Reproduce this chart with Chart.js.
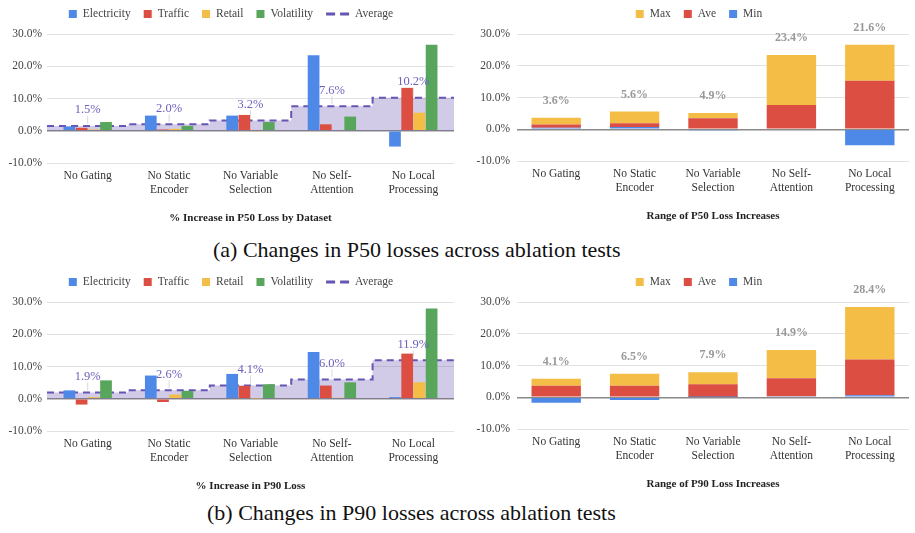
<!DOCTYPE html>
<html lang="en">
<head>
<meta charset="utf-8">
<title>Ablation tests</title>
<script src="https://cdn.jsdelivr.net/npm/chart.js@4.4.0/dist/chart.umd.min.js"></script>
<style>
  body { margin: 0; background: #fff; }
  #page { position: relative; width: 915px; height: 533px; overflow: hidden; }
  canvas { position: absolute; }
  .caption { position: absolute; font-family: "Liberation Serif", serif; font-size: 22px; color: #111; white-space: nowrap; }
</style>
</head>
<body>
<div id="page">
  <canvas id="p50Data" width="458" height="230" style="left:0;top:0"></canvas>
  <canvas id="p50Range" width="457" height="230" style="left:458px;top:0"></canvas>
  <div class="caption" style="left:213px;top:237px">(a) Changes in P50 losses across ablation tests</div>
  <canvas id="p90Data" width="458" height="230" style="left:0;top:268px"></canvas>
  <canvas id="p90Range" width="457" height="230" style="left:458px;top:268px"></canvas>
  <div class="caption" style="left:207px;top:500px">(b) Changes in P90 losses across ablation tests</div>
</div>
<script>
    // ablation tests (x axis)
    const ablations = ['No Gating', ['No Static', 'Encoder'], ['No Variable', 'Selection'], ['No Self-', 'Attention'], ['No Local', 'Processing']];

    // % increase in P50 loss by dataset
    const p50Electricity = [1.3, 4.7, 4.7, 23.4, -4.9];
    const p50Traffic = [0.9, 0.4, 4.9, 2.0, 13.3];
    const p50Retail = [0.4, 0.6, -0.3, 0.0, 5.6];
    const p50Volatility = [2.7, 1.5, 2.7, 4.4, 26.7];
    const p50Average = [1.5, 2.0, 3.2, 7.6, 10.2];

    // % increase in P90 loss by dataset
    const p90Electricity = [2.6, 7.2, 7.7, 14.5, 0.5];
    const p90Traffic = [-1.8, -1.0, 4.0, 4.1, 14.0];
    const p90Retail = [0.5, 1.3, 0.1, 0.3, 5.1];
    const p90Volatility = [5.7, 2.4, 4.5, 5.1, 28.0];
    const p90Average = [1.9, 2.6, 4.1, 6.0, 11.9];

    // range charts: stacked segments and the total shown above each stack
    const p50RangeMin = [0.5, 0.7, -0.3, 0.0, -5.0];
    const p50RangeAve = [1.0, 1.2, 3.5, 7.6, 15.3];
    const p50RangeMax = [2.1, 3.7, 1.6, 15.8, 11.3];
    const p50RangeTotal = [3.6, 5.6, 4.9, 23.4, 21.6];

    const p90RangeMin = [-1.7, -0.9, 0.1, 0.3, 0.6];
    const p90RangeAve = [3.6, 3.6, 4.0, 5.7, 11.3];
    const p90RangeMax = [2.2, 3.8, 3.8, 8.9, 16.5];
    const p90RangeTotal = [4.1, 6.5, 7.9, 14.9, 28.4];

    const yTicks = [-10, 0, 10, 20, 30];

    const blue = '#4e89e8', red = '#dc4e41', yellow = '#f3bd46', green = '#58a65c';
    const avgLine = '#6556b3', avgFill = 'rgba(104, 84, 175, 0.3)';
    const fontFamily = '"Liberation Serif", "Times New Roman", serif';

    Chart.defaults.font.family = fontFamily;
    Chart.defaults.font.size = 11;
    Chart.defaults.color = '#444';
    Chart.defaults.animation = false;

    // legend like the google sheets one (square boxes + dashed line item)
    const sheetLegend = {
        id: 'sheetLegend',
        afterDraw(chart, args, opts) {
            const ctx = chart.ctx;
            ctx.save();
            ctx.font = '11.5px ' + fontFamily;
            ctx.textBaseline = 'middle';
            let items = chart.data.datasets.map(d => ({
                text: d.label,
                color: d.type === 'line' ? d.borderColor : d.backgroundColor,
                dash: d.type === 'line'
            }));
            if (opts.reverse) items = items.reverse();
            const box = 8, gap = 6, spacing = 13, dashW = 23;
            const widths = items.map(it => (it.dash ? dashW : box) + gap + ctx.measureText(it.text).width);
            const total = widths.reduce((a, b) => a + b, 0) + spacing * (items.length - 1);
            let x = opts.x - total / 2;
            const y = opts.y;
            items.forEach((it, i) => {
                if (it.dash) {
                    ctx.strokeStyle = it.color;
                    ctx.lineWidth = 3;
                    ctx.setLineDash([9, 5]);
                    ctx.beginPath();
                    ctx.moveTo(x, y);
                    ctx.lineTo(x + dashW, y);
                    ctx.stroke();
                    ctx.setLineDash([]);
                } else {
                    ctx.fillStyle = it.color;
                    ctx.fillRect(x, y - box / 2, box, box);
                }
                ctx.fillStyle = '#444';
                ctx.fillText(it.text, x + (it.dash ? dashW : box) + gap, y);
                x += widths[i] + spacing;
            });
            ctx.restore();
        }
    };

    // purple average labels with a thin leader line (x is a linear 0..5 scale here)
    const averageLabels = {
        id: 'averageLabels',
        afterDatasetsDraw(chart, args, opts) {
            const ctx = chart.ctx, xs = chart.scales.x, ys = chart.scales.y;
            ctx.save();
            opts.values.forEach((v, i) => {
                const px = xs.getPixelForValue(i + 0.5);
                const py = ys.getPixelForValue(v);
                ctx.strokeStyle = '#d9d9d9';
                ctx.lineWidth = 1;
                ctx.beginPath();
                ctx.moveTo(px, py - 2);
                ctx.lineTo(px, py - 10);
                ctx.stroke();
                ctx.fillStyle = '#6d62bb';
                ctx.font = '12.5px ' + fontFamily;
                ctx.textAlign = 'center';
                ctx.textBaseline = 'middle';
                ctx.fillText(v.toFixed(1) + '%', px, py - 16);
            });
            ctx.restore();
        }
    };

    // grey totals above the stacked bars
    const stackTotals = {
        id: 'stackTotals',
        afterDatasetsDraw(chart, args, opts) {
            const ctx = chart.ctx, xs = chart.scales.x, ys = chart.scales.y;
            ctx.save();
            ctx.fillStyle = '#999';
            ctx.font = 'bold 12px ' + fontFamily;
            ctx.textAlign = 'center';
            ctx.textBaseline = 'middle';
            opts.values.forEach((v, i) => {
                const top = chart.data.datasets.reduce((s, d) => s + Math.max(d.data[i], 0), 0);
                ctx.fillText(v.toFixed(1) + '%', xs.getPixelForValue(i), ys.getPixelForValue(top) - 17);
            });
            ctx.restore();
        }
    };

    const yScale = (width, padding) => ({
        min: -10,
        max: 30,
        afterBuildTicks: s => { s.ticks = yTicks.map(v => ({ value: v })); },
        afterFit: s => { s.width = width; },
        border: { display: false },
        grid: {
            drawTicks: false,
            color: c => c.tick.value === 0 ? '#8a8a8a' : '#e2e2e2',
            lineWidth: c => c.tick.value === 0 ? 1.5 : 1
        },
        ticks: { padding: padding, color: '#444', font: { size: 11.5 }, callback: v => v.toFixed(1) + '%' }
    });

    const xScale = (title, height, titleBottom) => ({
        afterFit: s => { s.height = height; },
        border: { display: false },
        grid: { display: false, drawTicks: false },
        ticks: { padding: 6, color: '#333', font: { size: 11.5 }, maxRotation: 0, autoSkip: false },
        title: {
            display: true,
            text: title,
            color: '#222',
            font: { weight: 'bold', size: 11 },
            padding: { top: 0, bottom: titleBottom }
        }
    });

    // bars sit in the middle of each unit slot, the step line on the slot edges
    const barPoints = values => values.map((v, i) => ({ x: i + 0.5, y: v }));
    const stepPoints = values => {
        const pts = values.map((v, i) => ({ x: i, y: v }));
        pts.push({ x: values.length, y: values[values.length - 1] });
        return pts;
    };

    const datasetChart = (id, title, series, average) => {
        const barDefaults = { type: 'bar', categoryPercentage: 0.6, barPercentage: 0.96, order: 0 };
        const x = xScale(title, 67, 5);
        return new Chart(document.getElementById(id), {
            type: 'bar',
            data: {
                datasets: [
                    { ...barDefaults, label: 'Electricity', data: barPoints(series[0]), backgroundColor: blue },
                    { ...barDefaults, label: 'Traffic', data: barPoints(series[1]), backgroundColor: red },
                    { ...barDefaults, label: 'Retail', data: barPoints(series[2]), backgroundColor: yellow },
                    { ...barDefaults, label: 'Volatility', data: barPoints(series[3]), backgroundColor: green },
                    {
                        type: 'line', label: 'Average', order: 1,
                        data: stepPoints(average),
                        stepped: 'before', fill: 'origin',
                        borderColor: avgLine, borderWidth: 2, borderDash: [7, 5],
                        backgroundColor: avgFill, pointRadius: 0
                    }
                ]
            },
            options: {
                responsive: false,
                events: [],
                layout: { padding: { top: 34, right: 4, left: 0, bottom: 0 } },
                scales: {
                    x: {
                        ...x,
                        type: 'linear',
                        min: 0,
                        max: ablations.length,
                        offset: false,
                        afterBuildTicks: s => { s.ticks = ablations.map((a, i) => ({ value: i + 0.5 })); },
                        ticks: { ...x.ticks, callback: v => ablations[Math.floor(v)] }
                    },
                    y: yScale(47, 5)
                },
                plugins: {
                    legend: { display: false },
                    tooltip: { enabled: false },
                    sheetLegend: { x: 231, y: 14 },
                    averageLabels: { values: average }
                }
            },
            plugins: [sheetLegend, averageLabels]
        });
    };

    const rangeChart = (id, title, min, ave, max, totals) => {
        const barDefaults = { categoryPercentage: 1, barPercentage: 0.63 };
        return new Chart(document.getElementById(id), {
            type: 'bar',
            data: {
                labels: ablations,
                datasets: [
                    { ...barDefaults, label: 'Min', data: min, backgroundColor: blue },
                    { ...barDefaults, label: 'Ave', data: ave, backgroundColor: red },
                    { ...barDefaults, label: 'Max', data: max, backgroundColor: yellow }
                ]
            },
            options: {
                responsive: false,
                events: [],
                layout: { padding: { top: 34, right: 6, left: 0, bottom: 0 } },
                scales: {
                    x: { ...xScale(title, 69, 7), stacked: true },
                    y: { ...yScale(59, 7), stacked: true }
                },
                plugins: {
                    legend: { display: false },
                    tooltip: { enabled: false },
                    sheetLegend: { x: 241, y: 14, reverse: true },
                    stackTotals: { values: totals }
                }
            },
            plugins: [sheetLegend, stackTotals]
        });
    };

    datasetChart('p50Data', '% Increase in P50 Loss by Dataset',
        [p50Electricity, p50Traffic, p50Retail, p50Volatility], p50Average);
    rangeChart('p50Range', 'Range of P50 Loss Increases', p50RangeMin, p50RangeAve, p50RangeMax, p50RangeTotal);
    datasetChart('p90Data', '% Increase in P90 Loss',
        [p90Electricity, p90Traffic, p90Retail, p90Volatility], p90Average);
    rangeChart('p90Range', 'Range of P90 Loss Increases', p90RangeMin, p90RangeAve, p90RangeMax, p90RangeTotal);
</script>
</body>
</html>
